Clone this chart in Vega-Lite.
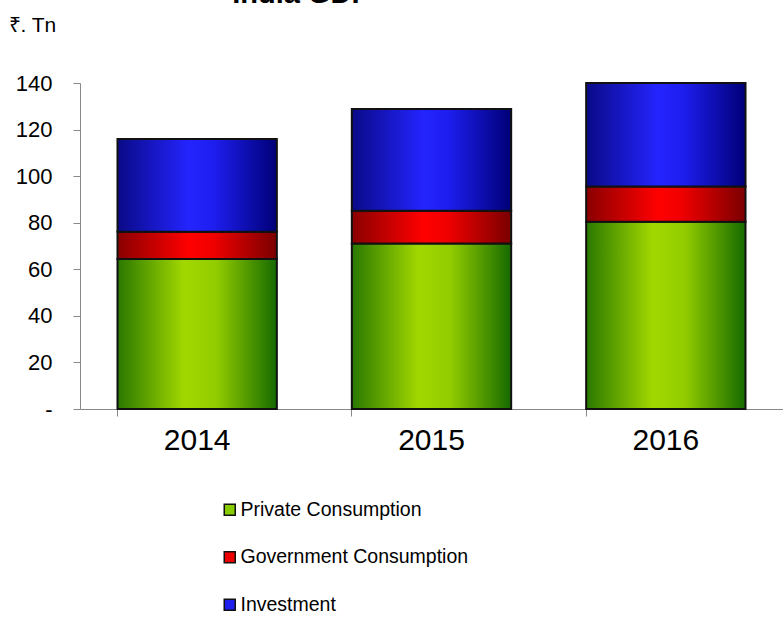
{
  "$schema": "https://vega.github.io/schema/vega-lite/v6.json",
  "width": 703,
  "height": 326,
  "autosize": "none",
  "padding": {"left": 80, "top": 83, "right": 0, "bottom": 217},
  "background": "white",
  "title": {
    "text": "India GDP",
    "font": "Liberation Sans",
    "fontSize": 29,
    "fontWeight": "bold",
    "color": "black",
    "anchor": "middle",
    "frame": "group",
    "baseline": "alphabetic",
    "dx": -130,
    "offset": -18
  },
  "config": {
    "view": {"stroke": null},
    "font": "Liberation Sans"
  },
  "data": {
    "values": [
      {"year": "2014", "series": "Private Consumption", "ord": 1, "value": 64.4},
      {"year": "2014", "series": "Government Consumption", "ord": 2, "value": 11.7},
      {"year": "2014", "series": "Investment", "ord": 3, "value": 39.8},
      {"year": "2015", "series": "Private Consumption", "ord": 1, "value": 71.1},
      {"year": "2015", "series": "Government Consumption", "ord": 2, "value": 14.0},
      {"year": "2015", "series": "Investment", "ord": 3, "value": 43.7},
      {"year": "2016", "series": "Private Consumption", "ord": 1, "value": 80.4},
      {"year": "2016", "series": "Government Consumption", "ord": 2, "value": 15.1},
      {"year": "2016", "series": "Investment", "ord": 3, "value": 44.5}
    ]
  },
  "mark": {"type": "bar", "stroke": "#111111", "strokeWidth": 2},
  "encoding": {
    "x": {
      "field": "year",
      "type": "nominal",
      "scale": {"paddingInner": 0.32, "paddingOuter": 0.16},
      "axis": {
        "title": null,
        "labelAngle": 0,
        "labelFontSize": 30,
        "labelColor": "black",
        "labelPadding": 9,
        "tickSize": 7,
        "tickColor": "#888888",
        "domainColor": "#888888",
        "bandPosition": 0,
        "grid": false
      }
    },
    "y": {
      "field": "value",
      "type": "quantitative",
      "stack": "zero",
      "scale": {"domain": [0, 140], "nice": false},
      "axis": {
        "title": "₹. Tn",
        "titleAngle": 0,
        "titleAlign": "left",
        "titleBaseline": "alphabetic",
        "titleX": -72,
        "titleY": -52,
        "titleFontSize": 21,
        "titleFontWeight": "normal",
        "titleColor": "black",
        "values": [0, 20, 40, 60, 80, 100, 120, 140],
        "labelExpr": "datum.value == 0 ? '-' : datum.label",
        "labelFontSize": 22,
        "labelColor": "black",
        "labelPadding": 21,
        "tickSize": 7,
        "tickColor": "#888888",
        "domainColor": "#888888",
        "grid": false
      }
    },
    "order": {"field": "ord", "type": "quantitative"},
    "color": {
      "condition": [
        {"test": "datum.series == 'Private Consumption'", "value":
          {"gradient": "linear", "x1": 0, "y1": 0, "x2": 1, "y2": 0, "stops": [
            {"offset": 0, "color": "#2a7800"},
            {"offset": 0.42, "color": "#a2d800"},
            {"offset": 0.62, "color": "#92cc00"},
            {"offset": 1, "color": "#166a00"}]}},
        {"test": "datum.series == 'Government Consumption'", "value":
          {"gradient": "linear", "x1": 0, "y1": 0, "x2": 1, "y2": 0, "stops": [
            {"offset": 0, "color": "#8a0000"},
            {"offset": 0.45, "color": "#ff0000"},
            {"offset": 0.6, "color": "#f00000"},
            {"offset": 1, "color": "#7a0000"}]}},
        {"test": "datum.series == 'Investment'", "value":
          {"gradient": "linear", "x1": 0, "y1": 0, "x2": 1, "y2": 0, "stops": [
            {"offset": 0, "color": "#0a0a88"},
            {"offset": 0.45, "color": "#2424ff"},
            {"offset": 0.6, "color": "#1e1ef0"},
            {"offset": 1, "color": "#000078"}]}}
      ],
      "field": "series",
      "type": "nominal",
      "scale": {
        "domain": ["Private Consumption", "Government Consumption", "Investment"],
        "range": ["#88cc00", "#ee0000", "#2020ee"]
      },
      "legend": {
        "title": null,
        "orient": "none",
        "legendX": 140,
        "legendY": 417,
        "symbolType": "square",
        "symbolSize": 121,
        "symbolStrokeColor": "#111111",
        "symbolStrokeWidth": 1.5,
        "symbolOpacity": 1,
        "labelFontSize": 19.5,
        "labelLimit": 500,
        "labelColor": "black",
        "labelOffset": 1,
        "rowPadding": 26.5
      }
    }
  }
}
